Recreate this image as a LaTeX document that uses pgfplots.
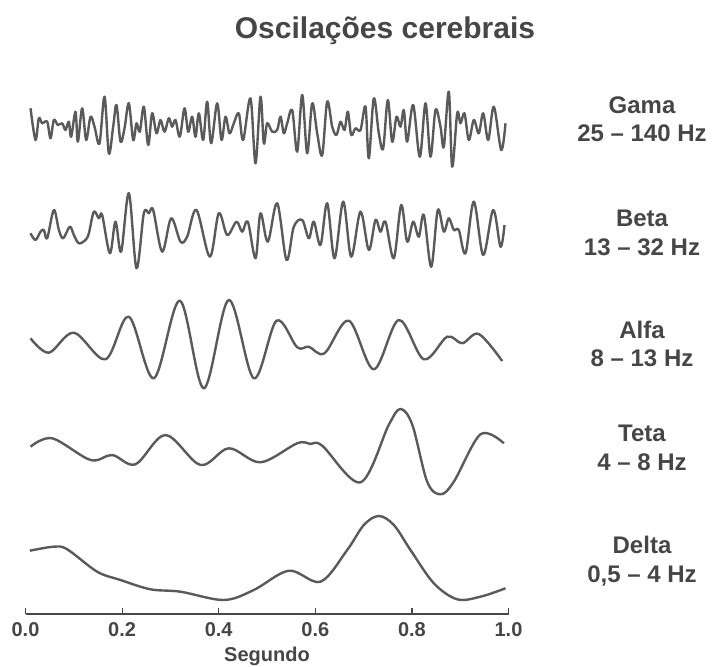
\documentclass[border=0pt]{standalone}
\usepackage{fontspec}
\setmainfont{Liberation Sans}
\usepackage{pgfplots}
\pgfplotsset{compat=1.18}
\definecolor{txtgray}{HTML}{464646}
\definecolor{wavegray}{HTML}{5A5A5A}
\pgfplotsset{wave/.style={draw=wavegray, line width=2.4pt, smooth, tension=0.55, line join=round, mark=none}}
\begin{document}
\begin{tikzpicture}
\useasboundingbox (0,0) rectangle (714pt,666pt);
\begin{axis}[
    at={(25.5pt,53pt)}, anchor=origin,
    x=483pt, y=1pt,
    xmin=0, xmax=1, ymin=-1, ymax=530,
    clip=false,
    axis x line=bottom, axis y line=none,
    x axis line style={-, draw=txtgray, line width=1.2pt},
    xtick={0,0.2,...,1.0},
    xtick align=inside,
    major tick length=6pt,
    tick style={draw=txtgray, line width=1.2pt},
    xticklabel style={font=\fontsize{20}{24}\selectfont\bfseries, text=txtgray, yshift=-5pt},
    /pgf/number format/.cd, fixed, fixed zerofill, precision=1, assume math mode=true,
    /pgfplots/.cd,
    xlabel={Segundo},
    xlabel style={font=\fontsize{20}{24}\selectfont\bfseries, text=txtgray, yshift=-3pt},
]
% Gama 25-140 Hz
\addplot[wave] table {
0.0104 504.7
0.0207 473
0.0276 494.7
0.0345 489.7
0.0449 491.3
0.0518 474.7
0.0587 493
0.0669 488
0.0759 489.7
0.0828 483
0.0897 491.3
0.0945 476.3
0.1035 501.3
0.1084 471.3
0.1173 504.7
0.1256 473
0.1346 496.3
0.1429 486.3
0.1532 469.7
0.1636 516.3
0.1725 459.7
0.1815 486.3
0.1884 508
0.1967 471.3
0.2050 484.7
0.2139 509.7
0.2229 473
0.2298 489.7
0.2367 481.3
0.2450 506.3
0.2540 468
0.2622 499.7
0.2712 479.7
0.2795 493
0.2878 481.3
0.2968 494.7
0.3036 486.3
0.3106 493
0.3195 476.3
0.3292 504.7
0.3368 481.3
0.3450 496.3
0.3520 476.3
0.3589 499.7
0.3679 473
0.3761 511.3
0.3844 469.7
0.3968 509.7
0.4058 473
0.4141 496.3
0.4224 479.7
0.4313 489.7
0.4417 499.7
0.4506 473
0.4658 514.7
0.4762 449.7
0.4865 516.3
0.4934 469.7
0.5003 489.7
0.5107 481.3
0.5211 483
0.5280 496.3
0.5348 479.7
0.5418 489.7
0.5522 503
0.5625 461.3
0.5729 518
0.5832 459.7
0.5936 509.7
0.6039 479.7
0.6143 458
0.6246 511.3
0.6350 486.3
0.6439 478
0.6522 491.3
0.6605 483
0.6674 501.3
0.6743 478
0.6832 484.7
0.6936 483
0.7039 506.3
0.7108 454.7
0.7211 514.7
0.7315 479.7
0.7405 464.7
0.7501 513
0.7592 471.3
0.7681 496.3
0.7764 486.3
0.7833 503
0.7902 471.3
0.8026 508
0.8164 456.3
0.8282 509.7
0.8385 456.3
0.8489 503
0.8592 486.3
0.8661 466.3
0.8764 521.3
0.8834 446.3
0.8938 499.7
0.9006 489.7
0.9089 499.7
0.9178 473
0.9282 493
0.9385 479.7
0.9476 499.7
0.9580 473
0.9696 506.3
0.9849 463
0.9938 489.7
};
% Beta 13-32 Hz
\addplot[wave] table {
0.0104 379.7
0.0207 373
0.0311 381.3
0.0380 383
0.0449 374.7
0.0587 403
0.0691 383
0.0780 374.7
0.0918 386.3
0.1001 378
0.1104 369.7
0.1242 373
0.1312 379.7
0.1415 401.3
0.1518 394.7
0.1587 398
0.1747 359.7
0.1863 391.3
0.1980 361.3
0.2140 419.7
0.2298 344.7
0.2450 399.7
0.2554 399.7
0.2643 403
0.2830 361.3
0.3016 394.7
0.3209 371.3
0.3347 376.3
0.3540 403
0.3816 356.3
0.4002 399.7
0.4176 378
0.4369 391.3
0.4486 381.3
0.4603 391.3
0.4762 354.7
0.4865 399.7
0.5017 371.3
0.5211 409.7
0.5404 353
0.5555 386.3
0.5729 393
0.5866 374.7
0.5969 391.3
0.6108 368
0.6246 409.7
0.6398 354.7
0.6578 411.3
0.6743 356.3
0.6936 401.3
0.7108 363
0.7246 393
0.7350 381.3
0.7453 391.3
0.7625 354.7
0.7778 408
0.7902 371.3
0.8026 391.3
0.8143 376.3
0.8247 398
0.8400 346.3
0.8536 403
0.8661 381.3
0.8764 394.7
0.8868 383
0.8971 383
0.9110 359.7
0.9282 411.3
0.9476 358
0.9683 403
0.9834 366.3
0.9917 388
};
% Alfa 8-13 Hz
\addplot[wave] table {
0.0104 274.7
0.0483 260.3
0.1001 280.3
0.1656 253.7
0.2139 296.3
0.2657 234.7
0.3195 312.3
0.3692 224.7
0.4209 313
0.4727 234.7
0.5197 292.3
0.5625 265.7
0.5866 266.3
0.6190 259.7
0.6694 292.3
0.7211 243.7
0.7729 293
0.8247 253.7
0.8731 276.3
0.9041 269.7
0.9385 279
0.9869 252
};
% Teta 4-8 Hz
\addplot[wave] table {
0.0104 166.3
0.0553 174.7
0.1346 153
0.1795 158
0.2277 148.7
0.2899 178
0.3623 148
0.4209 164.7
0.4865 150.7
0.5625 169.7
0.5901 169
0.6143 167.3
0.6936 130.7
0.7520 188
0.7764 204
0.8010 188
0.8316 131.3
0.8592 118.7
0.8868 131.3
0.9420 178.7
0.9903 169.7
};
% Delta 0,5-4 Hz
\addplot[wave] table {
0.0090 62.3
0.0587 66.3
0.0863 63.7
0.1484 41.3
0.1967 33
0.2588 23.7
0.3209 21.3
0.4106 13
0.4727 23
0.5452 42.3
0.6108 31.3
0.6660 63
0.7005 88
0.7315 97
0.7626 88
0.7971 63
0.8454 29.7
0.8938 13.7
0.9420 16.3
0.9938 24.7
};
\end{axis}
\begin{scope}[every node/.style={text=txtgray, font=\fontsize{24}{28}\selectfont\bfseries, anchor=base}]
\node[font=\fontsize{30}{36}\selectfont\bfseries] at (385pt,627pt) {Oscilações cerebrais};
\node at (642pt,552.7pt) {Gama};
\node at (642pt,524.7pt) {25 – 140 Hz};
\node at (642pt,439.7pt) {Beta};
\node at (642pt,410.7pt) {13 – 32 Hz};
\node at (642pt,327.7pt) {Alfa};
\node at (642pt,299.7pt) {8 – 13 Hz};
\node at (642pt,224.7pt) {Teta};
\node at (642pt,195.7pt) {4 – 8 Hz};
\node at (642pt,112.7pt) {Delta};
\node at (642pt,83.7pt) {0,5 – 4 Hz};
\end{scope}
\end{tikzpicture}
\end{document}
